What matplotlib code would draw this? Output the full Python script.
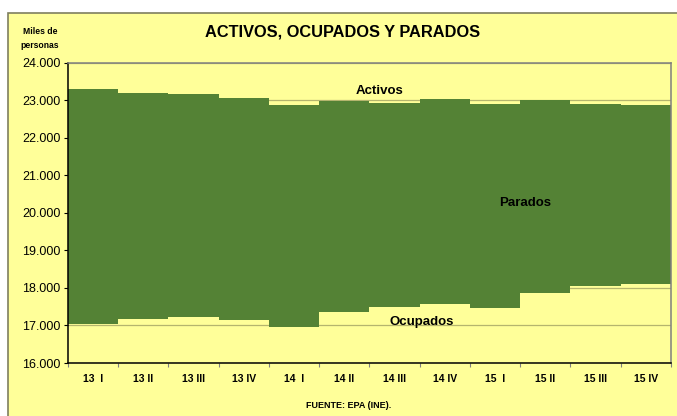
import numpy as np
import matplotlib.pyplot as plt
from matplotlib.patches import Rectangle
from matplotlib.ticker import FuncFormatter, FixedLocator

plt.rcParams['font.family'] = ['Liberation Sans', 'DejaVu Sans']

trimestres = ["13  I", "13 II", "13 III", "13 IV", "14  I", "14 II",
              "14 III", "14 IV", "15  I", "15 II", "15 III", "15 IV"]
activos = [23308, 23208, 23173, 23071, 22884, 22976,
           22932, 23027, 22899, 23016, 22900, 22874]
ocupados = [17030, 17161, 17230, 17135, 16951, 17353,
            17504, 17569, 17455, 17867, 18049, 18094]

verde = "#548235"
amarillo = "#FFFF99"

fig = plt.figure(figsize=(6.77, 4.16), dpi=100)
fig.patch.set_facecolor("white")
# fondo del grafico
fig.patches.append(Rectangle((8 / 677, -0.05), 1.0, 0.968 + 0.05,
                             transform=fig.transFigure, facecolor=amarillo,
                             edgecolor="#7F7F5F", linewidth=1.2, zorder=-1))

ax = fig.add_axes([0.1, 0.1274, 0.891, 0.7216])
ax.set_zorder(1)
ax.set_facecolor(amarillo)

x = np.arange(len(trimestres))
parados = np.array(activos) - np.array(ocupados)
ax.bar(x, parados, bottom=ocupados, width=1.0, color=verde, linewidth=0, zorder=2)

ax.set_xlim(-0.5, len(trimestres) - 0.5)
ax.set_ylim(16000, 24000)
ax.set_yticks(np.arange(16000, 24001, 1000))
ax.yaxis.set_major_formatter(FuncFormatter(lambda v, p: f"{int(v):,}".replace(",", ".")))
ax.tick_params(axis="y", labelsize=9, length=3, width=0.8, direction="out", pad=2)
ax.yaxis.grid(True, color="#B5B56E", linewidth=0.9, zorder=1)
ax.set_axisbelow(True)

ax.set_xticks(x)
ax.set_xticklabels(trimestres, fontsize=7.5, fontweight="bold",
                   family=["Liberation Sans Narrow", "Liberation Sans"])
ax.tick_params(axis="x", which="major", length=0, pad=8)
ax.xaxis.set_minor_locator(FixedLocator(np.arange(-0.5, len(trimestres), 1.0)))
ax.tick_params(axis="x", which="minor", length=3, width=0.8, color="#808080", direction="out")

for s in ["left", "bottom"]:
    ax.spines[s].set_color("black")
    ax.spines[s].set_linewidth(1.1)
for s in ["top", "right"]:
    ax.spines[s].set_color("#808080")
    ax.spines[s].set_linewidth(1.1)

ax.text(5.71, 23240, "Activos", ha="center", va="center", fontsize=9.5, fontweight="bold", zorder=3)
ax.text(8.59, 20260, "Parados", ha="center", va="center", fontsize=9.5, fontweight="bold", zorder=3)
ax.text(6.54, 17100, "Ocupados", ha="center", va="center", fontsize=9.5, fontweight="bold", zorder=3)

fig.text(343 / 677, 1 - 32 / 416, "ACTIVOS, OCUPADOS Y PARADOS", ha="center", va="center",
         fontsize=11.8, fontweight="bold")
fig.text(40 / 677, 1 - 38.5 / 416, "Miles de\npersonas", ha="center", va="center",
         fontsize=6.2, fontweight="bold", linespacing=1.6)
fig.text(349 / 677, 1 - 405.5 / 416, "FUENTE: EPA (INE).", ha="center", va="center",
         fontsize=6.5, fontweight="bold")

fig.savefig("out.png", dpi=100, facecolor=fig.get_facecolor())
